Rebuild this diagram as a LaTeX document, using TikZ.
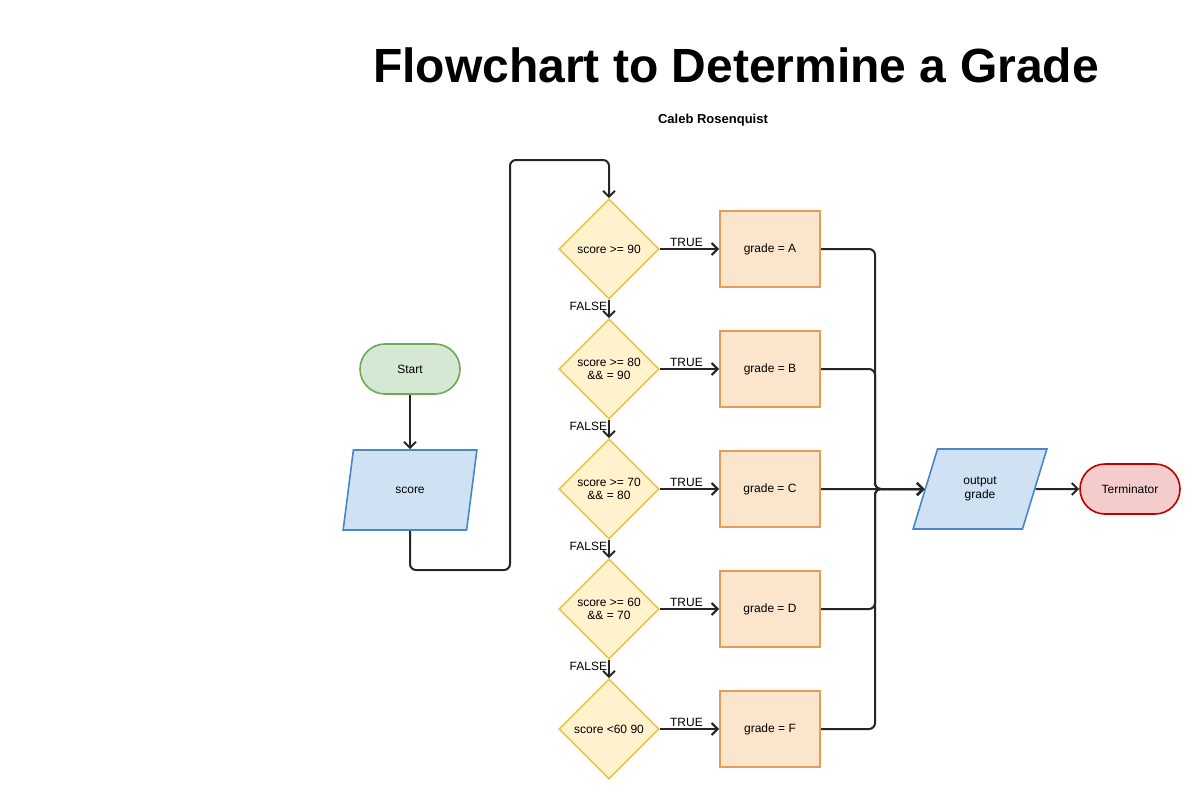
\documentclass[tikz,border=0pt]{standalone}
\usepackage{fontspec}
\setmainfont{Liberation Sans}
\usetikzlibrary{shapes.geometric,arrows.meta}

\definecolor{startfill}{HTML}{D5E8D4}
\definecolor{startline}{HTML}{6FA856}
\definecolor{iofill}{HTML}{CFE2F3}
\definecolor{ioline}{HTML}{4A86C8}
\definecolor{testfill}{HTML}{FFF2CC}
\definecolor{testline}{HTML}{EAC44A}
\definecolor{actfill}{HTML}{FCE5CD}
\definecolor{actline}{HTML}{E69D53}
\definecolor{stopfill}{HTML}{F4CCCC}
\definecolor{stopline}{HTML}{C00000}

\begin{document}
\begin{tikzpicture}[x=1pt, y=-1pt,
    every node/.style={font=\fontsize{12}{13.5}\selectfont},
    terminal/.style={rectangle, rounded corners=25pt, line width=1.6pt,
      minimum width=100pt, minimum height=50pt},
    io/.style={trapezium, trapezium left angle=68, trapezium right angle=112,
      trapezium stretches=true, draw=ioline, fill=iofill, line width=1.6pt,
      minimum width=134pt, minimum height=80pt, inner sep=0pt, align=center},
    test/.style={diamond, draw=testline, fill=testfill, line width=1.6pt,
      minimum width=100pt, minimum height=100pt, inner sep=0pt, align=center},
    action/.style={rectangle, draw=actline, fill=actfill, line width=2pt,
      minimum width=100pt, minimum height=76pt},
    link/.style={line width=2pt, draw=black!85, rounded corners=6pt,
      -{Straight Barb[length=6pt,width=12pt]}},
    tag/.style={inner sep=1pt}]

  \useasboundingbox (0,0) rectangle (1200,800);

  % title
  \node[anchor=base, font=\bfseries\fontsize{48}{52}\selectfont] (title) at (736,83)
    {Flowchart to Determine a Grade};
  \node[anchor=base, font=\bfseries\fontsize{13}{15}\selectfont] (author) at (713,123)
    {Caleb Rosenquist};

  % input side
  \node[terminal, draw=startline, fill=startfill] (start) at (410,369) {Start};
  \node[io] (score) at (410,490) {score};

  \coordinate (loopbot) at (510,570);
  \coordinate (looptop) at (510,160);

  % tests
  \node[test] (cmpA) at (609,249) {score >= 90};
  \node[test] (cmpB) at (609,369) {score >= 80\\\&\& = 90};
  \node[test] (cmpC) at (609,489) {score >= 70\\\&\& = 80};
  \node[test] (cmpD) at (609,609) {score >= 60\\\&\& = 70};
  \node[test] (cmpF) at (609,729) {score <60 90};

  % grades
  \node[action] (setA) at (770,249) {grade = A};
  \node[action] (setB) at (770,369) {grade = B};
  \node[action] (setC) at (770,489) {grade = C};
  \node[action] (setD) at (770,609) {grade = D};
  \node[action] (setF) at (770,729) {grade = F};

  % output side
  \coordinate (bus) at (875,489);
  \node[io] (outgrade) at (980,489) {output\\grade};
  \node[terminal, draw=stopline, fill=stopfill] (stop) at (1130,489) {Terminator};

  % draw links
  \draw[link] (start) -- (score);
  \draw[link] (score.south) |- (loopbot) -- (looptop) -| (cmpA.north);

  \draw[link] (cmpA) -- node[above, tag, pos=0.45] {TRUE} (setA);
  \draw[link] (cmpB) -- node[above, tag, pos=0.45] {TRUE} (setB);
  \draw[link] (cmpC) -- node[above, tag, pos=0.45] {TRUE} (setC);
  \draw[link] (cmpD) -- node[above, tag, pos=0.45] {TRUE} (setD);
  \draw[link] (cmpF) -- node[above, tag, pos=0.45] {TRUE} (setF);

  \draw[link] (cmpA) -- node[left, tag, pos=0.35] {FALSE} (cmpB);
  \draw[link] (cmpB) -- node[left, tag, pos=0.35] {FALSE} (cmpC);
  \draw[link] (cmpC) -- node[left, tag, pos=0.35] {FALSE} (cmpD);
  \draw[link] (cmpD) -- node[left, tag, pos=0.35] {FALSE} (cmpF);

  \draw[link] (setA.east) -| (bus) -- (outgrade.west);
  \draw[link] (setB.east) -| (bus) -- (outgrade.west);
  \draw[link] (setC.east) -- (outgrade.west);
  \draw[link] (setD.east) -| (bus) -- (outgrade.west);
  \draw[link] (setF.east) -| (bus) -- (outgrade.west);

  \draw[link] (outgrade) -- (stop);

\end{tikzpicture}
\end{document}
